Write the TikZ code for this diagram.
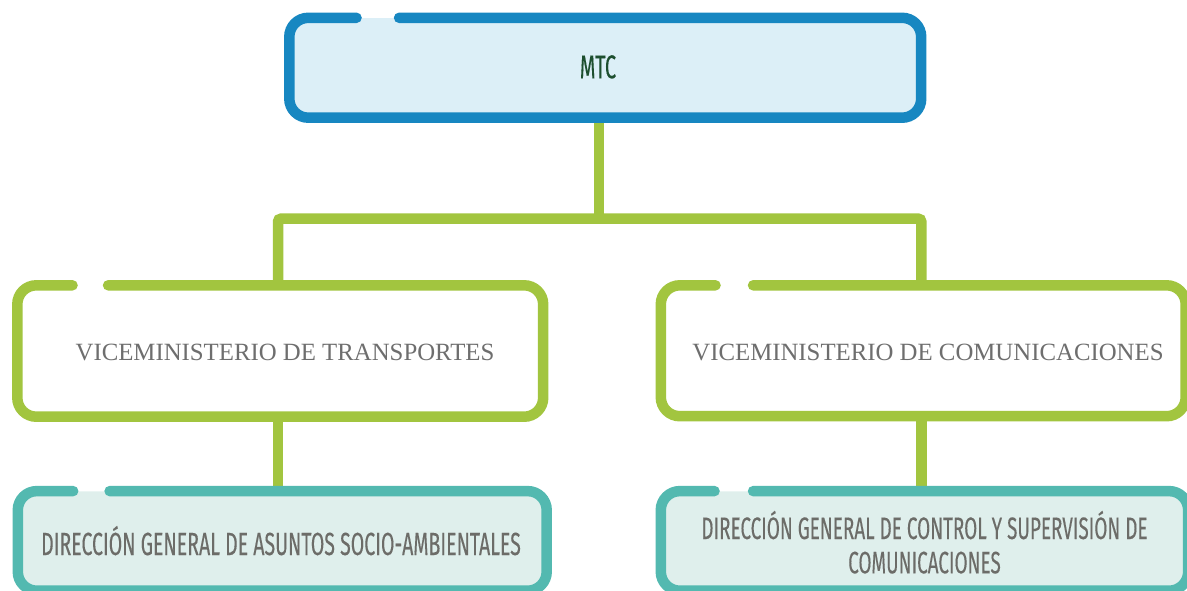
\documentclass[tikz,border=0pt]{standalone}
\usepackage{fontspec}
\newfontfamily\vicefont{Liberation Serif}
\newfontfamily\condfont[FakeStretch=0.61,FakeBold=0.2]{Fira Sans}
\definecolor{blueS}{HTML}{1787C1}
\definecolor{blueF}{HTML}{DCEFF7}
\definecolor{greenS}{HTML}{A2C53F}
\definecolor{tealS}{HTML}{53B9B0}
\definecolor{tealF}{HTML}{DFEFEC}
\definecolor{txtgray}{HTML}{6E6E6E}
\definecolor{txtgray2}{HTML}{6C6C68}
\definecolor{mtcgreen}{HTML}{1D4F2F}
\tikzset{
  boxshape/.style={rectangle, inner sep=0pt, rounded corners=19pt},
  boxline/.style={line width=10.5pt, line cap=round, rounded corners=19pt},
  conn/.style={draw=greenS, line width=10.5pt},
  vicetext/.style={font=\vicefont\fontsize{24.8}{29}\selectfont, text=txtgray, anchor=base, inner sep=0pt},
  condtext/.style={font=\condfont\fontsize{32}{36}\selectfont, text=txtgray2, anchor=base, inner sep=0pt},
}
\begin{document}
\begin{tikzpicture}[x=1pt,y=-1pt]
\useasboundingbox (0,0) rectangle (1187,590);
\clip (0,0) rectangle (1187,590);
% box shapes (fills)
\node[boxshape, fill=blueF, minimum width=631.5pt, minimum height=99.5pt] (mtc) at (605.25,67.75) {};
\node[boxshape, fill=white, minimum width=525.5pt, minimum height=131pt] (vt) at (280.25,351) {};
\node[boxshape, fill=white, minimum width=524.5pt, minimum height=130.5pt] (vc) at (923.25,350.75) {};
\node[boxshape, fill=tealF, minimum width=528.5pt, minimum height=99.2pt] (dt) at (282.25,540.9) {};
\node[boxshape, fill=tealF, minimum width=527pt, minimum height=99.2pt] (dc) at (924.5,540.9) {};
% connectors
\coordinate (j) at (599,218.7);
\coordinate (barL) at (278,218.7);
\coordinate (barR) at (921.3,218.7);
\draw[conn] (mtc.south -| j) -- (j);
\draw[conn, rounded corners=3pt] (vt.north -| barL) -- (barL) -- (barR) -- (vc.north -| barR);
\draw[conn] (vt.south -| barL) -- (dt.north -| barL);
\draw[conn] (vc.south -| barR) -- (dc.north -| barR);
% box outlines with gap
\draw[boxline, draw=blueS] ([xshift=109.75pt]mtc.north west) -- (mtc.north east) -- (mtc.south east) -- (mtc.south west) -- (mtc.north west) -- ([xshift=67.25pt]mtc.north west);
\draw[boxline, draw=greenS] ([xshift=90.75pt]vt.north west) -- (vt.north east) -- (vt.south east) -- (vt.south west) -- (vt.north west) -- ([xshift=55.25pt]vt.north west);
\draw[boxline, draw=greenS] ([xshift=92.25pt]vc.north west) -- (vc.north east) -- (vc.south east) -- (vc.south west) -- (vc.north west) -- ([xshift=54.75pt]vc.north west);
\draw[boxline, draw=tealS] ([xshift=91.8pt]dt.north west) -- (dt.north east) -- (dt.south east) -- (dt.south west) -- (dt.north west) -- ([xshift=55.4pt]dt.north west);
\draw[boxline, draw=tealS] ([xshift=92.25pt]dc.north west) -- (dc.north east) -- (dc.south east) -- (dc.south west) -- (dc.north west) -- ([xshift=53.75pt]dc.north west);
% texts
\node[condtext, text=mtcgreen, font=\condfont\fontsize{33}{36}\selectfont] (tmtc) at (598,78.3) {MTC};
\node[vicetext] (tvt) at (285,360.5) {VICEMINISTERIO DE TRANSPORTES};
\node[vicetext] (tvc) at (928,360.5) {VICEMINISTERIO DE COMUNICACIONES};
\node[condtext] (tdt) at (281,555) {DIRECCIÓN GENERAL DE ASUNTOS SOCIO-AMBIENTALES};
\node[condtext, align=center, font=\condfont\fontsize{31}{34.3}\selectfont] (tdc) at (924.5,573.3) {DIRECCIÓN GENERAL DE CONTROL Y SUPERVISIÓN DE\\COMUNICACIONES};
\end{tikzpicture}
\end{document}
